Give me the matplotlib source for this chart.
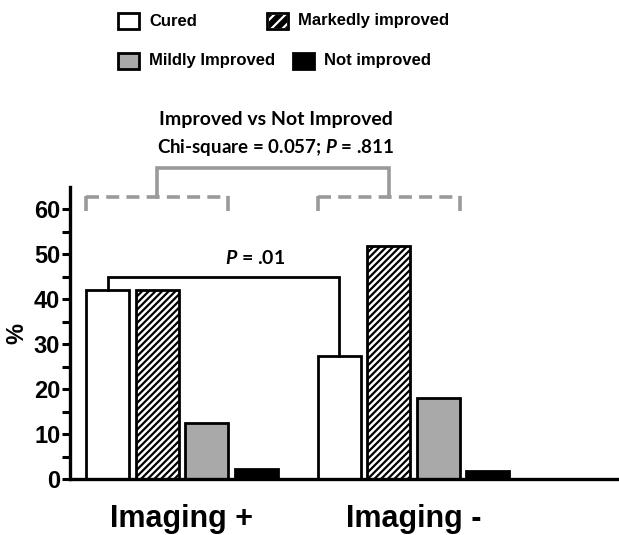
import matplotlib
matplotlib.use("Agg")
import matplotlib.pyplot as plt
from matplotlib.patches import Rectangle
import numpy as np

# data (percent of patients)
groups = ["Imaging +", "Imaging -"]
categories = ["Cured", "Markedly improved", "Mildly Improved", "Not improved"]
imaging_pos = [42.0, 42.0, 12.4, 2.2]
imaging_neg = [27.3, 51.8, 18.0, 1.8]

yticks = [0, 10, 20, 30, 40, 50, 60]

plt.rcParams['hatch.linewidth'] = 1.6
plt.rcParams['mathtext.fontset'] = 'custom'
plt.rcParams['mathtext.rm'] = 'Lato:bold'
plt.rcParams['mathtext.it'] = 'Lato:italic:bold'

arial = ['Liberation Sans', 'DejaVu Sans']
humanist = ['Lato', 'DejaVu Sans']

W, H = 619, 535
fig = plt.figure(figsize=(W / 100, H / 100), dpi=100)
ax = fig.add_axes([70 / W, 56 / H, 1 - 70 / W, 292 / H])

styles = [
    dict(facecolor='white', hatch=None),
    dict(facecolor='white', hatch='/////'),
    dict(facecolor='#a9a9a9', hatch=None),
    dict(facecolor='black', hatch=None),
]

width = 0.87
offset = 4.68
x1 = np.arange(4)
x2 = np.arange(4) + offset
for i in range(4):
    for xs, vals in ((x1, imaging_pos), (x2, imaging_neg)):
        ax.bar(xs[i], vals[i], width=width, color=styles[i]['facecolor'],
               hatch=styles[i]['hatch'], edgecolor='black', linewidth=2.0)

ax.set_xlim(-0.758, 10.33)
ax.set_ylim(0, 65)

for s in ['top', 'right']:
    ax.spines[s].set_visible(False)
ax.spines['left'].set_linewidth(2.4)
ax.spines['bottom'].set_linewidth(2.4)

ax.set_yticks(yticks)
ax.set_yticks(np.arange(5, 65, 10), minor=True)
ax.tick_params(axis='y', which='major', length=6, width=2.2, pad=1)
ax.tick_params(axis='y', which='minor', length=6, width=2.2)
ax.set_yticklabels([str(t) for t in yticks], fontsize=17, fontweight='bold',
                   family=arial)
ax.set_xticks([])

ax.set_ylabel('%', fontsize=17, fontweight='bold', family=arial, labelpad=4)

# group labels
for xs, g in ((x1, groups[0]), (x2, groups[1])):
    ax.text(xs.mean(), -5.5, g, ha='center', va='top', fontsize=22,
            fontweight='bold', family=arial, clip_on=False)

# P = .01 bracket between cured bars
top = 44.9
ax.plot([x1[0], x1[0], x2[0], x2[0]],
        [imaging_pos[0], top, top, imaging_neg[0]],
        color='black', lw=2.0, clip_on=False, solid_joinstyle='miter')
ax.text(2.97, 49.3, r'$\mathit{P}$ = .01', ha='center', va='center',
        fontsize=14, fontweight='bold', family=humanist)

# dashed brackets over improved categories
dash_y, leg_y = 62.7, 59.6
gray = '#9a9a9a'
for xs in (x1, x2):
    l, r = xs[0] - width / 2, xs[2] + width / 2
    ax.plot([l, r], [dash_y, dash_y], color=gray, lw=2.6,
            ls=(0, (3.6, 2.0)), clip_on=False, solid_capstyle='butt')
    for xe in (l, r):
        ax.plot([xe, xe], [leg_y, dash_y + 0.3], color=gray, lw=2.6,
                clip_on=False, solid_capstyle='butt')

# solid bracket joining the two groups
mid1, mid2 = x1[1], x2[1]
ax.plot([mid1, mid1, mid2, mid2], [dash_y, 69.3, 69.3, dash_y], color=gray,
        lw=2.6, clip_on=False, solid_joinstyle='miter')

fig.text(276 / W, 1 - 119 / H, 'Improved vs Not Improved', ha='center',
         va='center', fontsize=14, fontweight='bold', family=humanist)
fig.text(276 / W, 1 - 148 / H, r'Chi-square = 0.057; $\mathit{P}$ = .811',
         ha='center', va='center', fontsize=13.5, fontweight='bold',
         family=humanist)

# legend drawn by hand (columns are not aligned in the original)
legend_pos = [(118, 13, 149), (267, 13, 298), (118, 53, 149), (293, 53, 324)]
for (bx, by, tx), cat, st in zip(legend_pos, categories, styles):
    fc = st['facecolor']
    if st['hatch']:
        fc = 'black'
    rect = Rectangle((bx / W, 1 - (by + 16) / H), 21 / W, 16 / H,
                     transform=fig.transFigure, facecolor=fc,
                     edgecolor='black', linewidth=2.0,
                     hatch='///' if st['hatch'] else None)
    if st['hatch']:
        rect.set_edgecolor('white')
        fig.add_artist(rect)
        rect = Rectangle((bx / W, 1 - (by + 16) / H), 21 / W, 16 / H,
                         transform=fig.transFigure, facecolor='none',
                         edgecolor='black', linewidth=2.0)
    fig.add_artist(rect)
    fig.text(tx / W, 1 - (by + 8) / H, cat, ha='left', va='center',
             fontsize=12, fontweight='bold', family=arial)

fig.savefig('out.png', dpi=100)
